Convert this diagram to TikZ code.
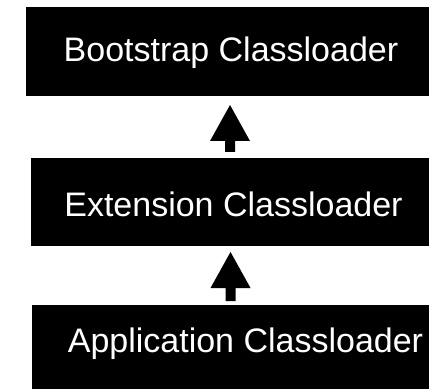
\documentclass[tikz,border=0pt]{standalone}
\usepackage{fontspec}
\setmainfont{Liberation Sans}
\begin{document}
\begin{tikzpicture}[x=1pt,y=1pt,
  box/.style={fill=black, inner sep=0pt, outer sep=0pt, anchor=south west},
  caption/.style={text=white, font=\fontsize{34}{40}\selectfont, inner sep=0pt, anchor=base},
  blockarrow/.style={fill=black}]
\useasboundingbox (0,0) rectangle (429,389);

% the three loader boxes
\node[box, minimum width=403pt, minimum height=89pt] (b1) at (26,293) {};
\node[box, minimum width=398pt, minimum height=88pt] (b2) at (31,143) {};
\node[box, minimum width=397pt, minimum height=84pt] (b3) at (32,0) {};

% their captions
\node[caption] (t1) at (231,327) {Bootstrap Classloader};
\node[caption] (t2) at (233.5,172) {Extension Classloader};
\node[caption] (t3) at (245.5,37) {Application Classloader};

% block arrows pointing from each loader up to its parent
\foreach \lo/\hi/\gl/\gh/\nm in {b2/b1/6/9/A, b3/b2/4/6/B} {
  \path ([yshift=\gl pt]\lo.north) coordinate (tail\nm);
  \path (tail\nm |- \hi.south) ++(0,-\gh) coordinate (tip\nm);
  \fill[blockarrow]
    ([xshift=-5pt]tail\nm) --
    ([xshift=-5pt,yshift=-36pt]tip\nm) --
    ([xshift=-20pt,yshift=-36pt]tip\nm) --
    (tip\nm) --
    ([xshift=20pt,yshift=-36pt]tip\nm) --
    ([xshift=5pt,yshift=-36pt]tip\nm) --
    ([xshift=5pt]tail\nm) -- cycle;
}
\end{tikzpicture}
\end{document}
